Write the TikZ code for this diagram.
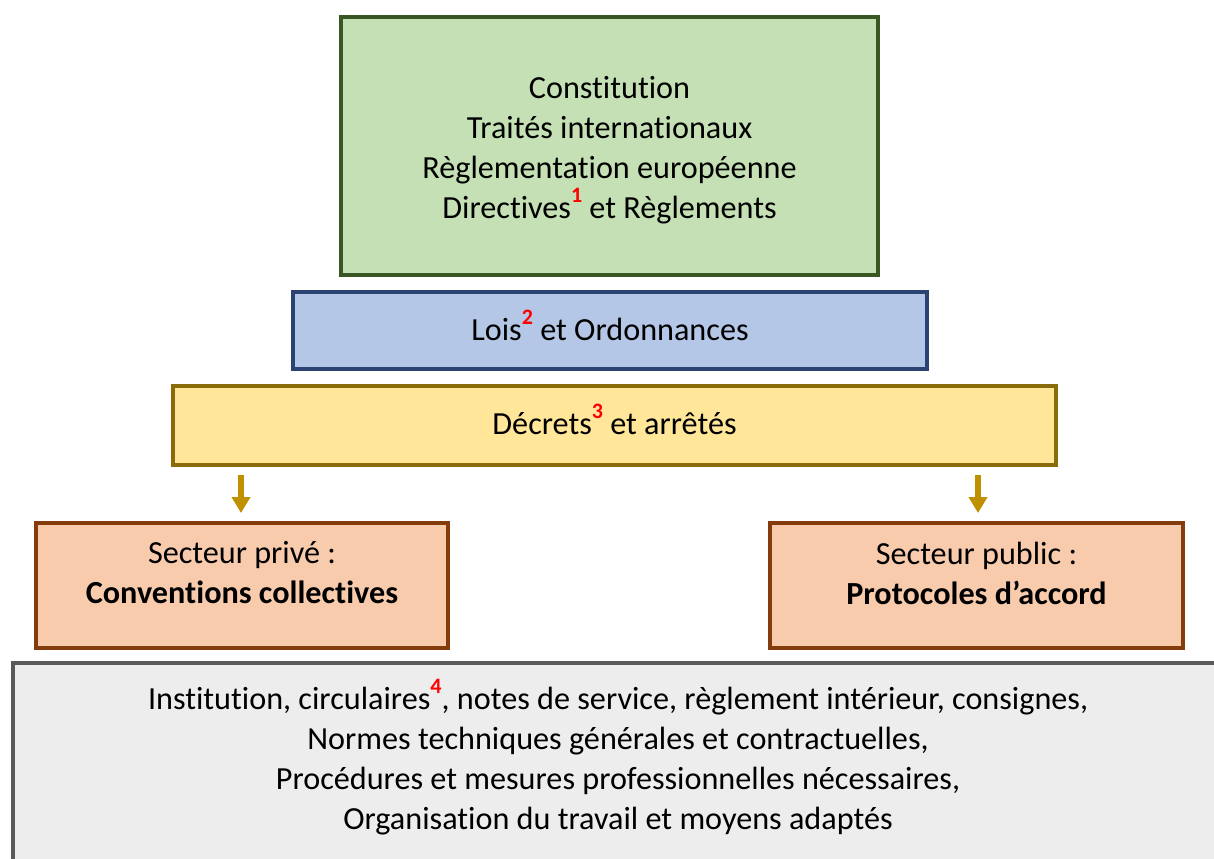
\documentclass[tikz,border=0pt]{standalone}
\usepackage{fontspec}
\setmainfont{Carlito}[Ligatures=NoCommon]
\usetikzlibrary{arrows.meta}
\definecolor{gfill}{HTML}{C5E0B4}
\definecolor{gdraw}{HTML}{385723}
\definecolor{bfill}{HTML}{B4C7E7}
\definecolor{bdraw}{HTML}{2A4372}
\definecolor{yfill}{HTML}{FFE699}
\definecolor{ydraw}{HTML}{8A6B0A}
\definecolor{ofill}{HTML}{F8CBAD}
\definecolor{odraw}{HTML}{843C0C}
\definecolor{xfill}{HTML}{EDEDED}
\definecolor{xdraw}{HTML}{595959}
\definecolor{arr}{HTML}{BF9000}
\newcommand\supn[1]{\raisebox{8pt}{\fontsize{11}{10}\selectfont\bfseries\color{red}#1}}
\begin{document}
\begin{tikzpicture}[x=0.5pt,y=-0.5pt,
  box/.style={rectangle, line width=2pt, inner sep=0pt, anchor=center},
  lbl/.style={align=center, inner sep=0pt, font=\fontsize{16.1}{20}\selectfont},
  downarrow/.style={draw=arr, line width=3pt, -{Triangle[width=9pt,length=8pt]}}]
\useasboundingbox (0,0) rectangle (1214,858);
% boxes
\node[box, draw=gdraw, fill=gfill, minimum width=268.5pt, minimum height=129pt] (green) at (609.5,146) {};
\node[box, draw=bdraw, fill=bfill, minimum width=317pt, minimum height=38.5pt] (blue) at (610,330.5) {};
\node[box, draw=ydraw, fill=yfill, minimum width=441.5pt, minimum height=39.5pt] (yellow) at (614.5,425.5) {};
\node[box, draw=odraw, fill=ofill, minimum width=206pt, minimum height=62.5pt] (priv) at (242,585.5) {};
\node[box, draw=odraw, fill=ofill, minimum width=206.5pt, minimum height=62.5pt] (pub) at (976.5,585.5) {};
\node[box, draw=xdraw, fill=xfill, minimum width=605pt, minimum height=130pt] (gray) at (618,793) {};
% texts
\node[lbl] (greentext) at (609.5,150) {Constitution\\Traités internationaux\\Règlementation européenne\\Directives\supn{1} et Règlements};
\node[lbl] (bluetext) at (610,325) {Lois\supn{2} et Ordonnances};
\node[lbl] (yellowtext) at (614.5,419) {Décrets\supn{3} et arrêtés};
\node[lbl] (privtext) at (242,573) {Secteur privé :\\\textbf{Conventions collectives}};
\node[lbl] (pubtext) at (976.5,573) {Secteur public :\\\textbf{Protocoles d’accord}};
\node[lbl] (graytext) at (618,757) {Institution, circulaires\supn{4}, notes de service, règlement intérieur, consignes,\\Normes techniques générales et contractuelles,\\Procédures et mesures professionnelles nécessaires,\\Organisation du travail et moyens adaptés};
% arrows
\coordinate (a1s) at (241,475);
\coordinate (a1e) at (241,513);
\coordinate (a2s) at (978,475);
\coordinate (a2e) at (978,513);
\draw[downarrow] (a1s) -- (a1e);
\draw[downarrow] (a2s) -- (a2e);
\end{tikzpicture}
\end{document}
